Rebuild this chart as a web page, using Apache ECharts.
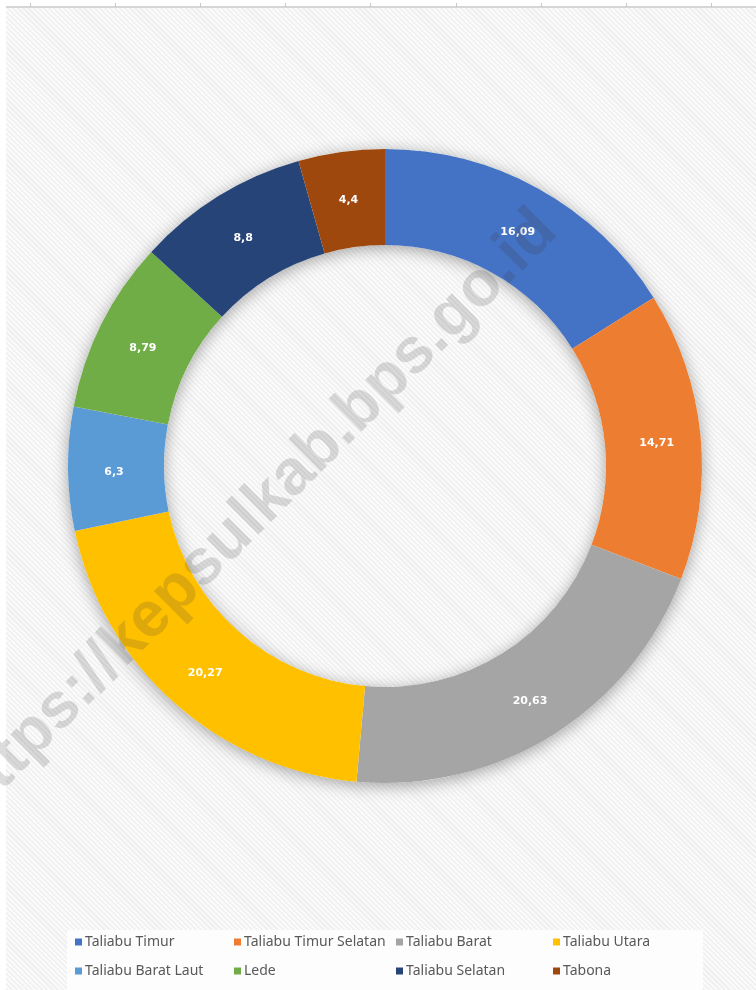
<!DOCTYPE html>
<html>
<head>
<meta charset="utf-8">
<title>Taliabu</title>
<script src="https://cdn.jsdelivr.net/npm/echarts@6/dist/echarts.min.js"></script>
<style>
html, body { margin: 0; padding: 0; background: #fff; }
#wrap { position: relative; width: 756px; height: 990px; overflow: hidden; }
#bg { position: absolute; left: 6px; top: 7px; right: 0; bottom: 0;
	background: repeating-linear-gradient(45deg, #f0f0f0 0, #f0f0f0 1.6px, #fafafa 1.6px, #fafafa 3.6px); }
#chart { position: absolute; left: 0; top: 0; width: 756px; height: 990px; }
</style>
</head>
<body>
<div id="wrap">
	<div id="bg"></div>
	<div id="chart"></div>
</div>
<script>
var categories = ['Taliabu Timur', 'Taliabu Timur Selatan', 'Taliabu Barat', 'Taliabu Utara',
	'Taliabu Barat Laut', 'Lede', 'Taliabu Selatan', 'Tabona'];
var values = [16.09, 14.71, 20.63, 20.27, 6.3, 8.79, 8.8, 4.4];
var colors = ['#4472C4', '#ED7D31', '#A5A5A5', '#FFC000', '#5B9BD5', '#70AD47', '#264478', '#9E480E'];

var pieData = [];
for (var i = 0; i < categories.length; i++) {
	pieData.push({ name: categories[i], value: values[i], itemStyle: { color: colors[i] } });
}

// top ruler of the source sheet
var ruler = [{
	type: 'line', silent: true,
	shape: { x1: 6, y1: 7, x2: 756, y2: 7 },
	style: { stroke: '#d6d6d6', lineWidth: 2 }
}];
for (var x = 30; x < 756; x += 85.1) {
	ruler.push({
		type: 'line', silent: true,
		shape: { x1: Math.round(x) + 0.5, y1: 3, x2: Math.round(x) + 0.5, y2: 7 },
		style: { stroke: '#c8c8c8', lineWidth: 1 }
	});
}

// legend: one component per item so the columns line up like the sheet
var legendCols = [75, 234, 396, 553];
var legendRows = [935, 964];
var legends = [];
for (var j = 0; j < categories.length; j++) {
	legends.push({
		data: [categories[j]],
		left: legendCols[j % 4],
		top: legendRows[Math.floor(j / 4)],
		padding: 0,
		icon: 'rect', itemWidth: 7, itemHeight: 7,
		textStyle: { color: '#595959', fontFamily: 'Noto Sans', fontSize: 14, padding: [0, 0, 0, -2] }
	});
}

var option = {
	animation: false,
	color: colors,
	legend: legends,
	graphic: ruler.concat([{
		type: 'rect', silent: true, z: -1,
		shape: { x: 67, y: 930, width: 636, height: 62 },
		style: { fill: '#fdfdfd' }
	}, {
		type: 'text', silent: true, z: 100,
		x: 254, y: 514, rotation: Math.PI / 4,
		style: {
			text: 'https://kepsulkab.bps.go.id',
			font: 'bold 64px "Liberation Sans"',
			fill: 'rgba(60,60,60,0.18)',
			align: 'center', verticalAlign: 'middle'
		}
	}]),
	series: [{
		// shadow ring under the slices
		type: 'pie', silent: true, z: 1,
		center: [385, 466], radius: [221, 317],
		label: { show: false }, labelLine: { show: false },
		data: [{ value: 1, name: 'shadow', itemStyle: { color: '#ffffff' } }],
		itemStyle: { shadowBlur: 16, shadowColor: 'rgba(0,0,0,0.35)', shadowOffsetY: 3 },
		emphasis: { disabled: true },
		tooltip: { show: false }
	}, {
		type: 'pie', z: 2,
		center: [385, 466], radius: [221, 317],
		startAngle: 90, clockwise: true,
		itemStyle: { borderWidth: 0 },
		label: {
			show: true, position: 'inside', offset: [1, 4],
			color: '#ffffff', fontFamily: 'DejaVu Sans', fontWeight: 'bold', fontSize: 11,
			formatter: function (p) { return String(p.value).replace('.', ','); }
		},
		labelLine: { show: false },
		emphasis: { disabled: true },
		data: pieData
	}]
};

var chart = echarts.init(document.getElementById('chart'));
chart.setOption(option);
</script>
</body>
</html>
